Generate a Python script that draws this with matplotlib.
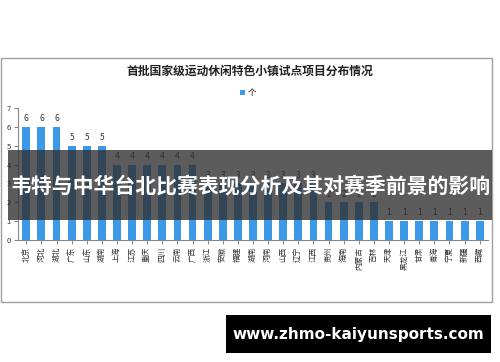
import matplotlib
matplotlib.use("Agg")
import matplotlib.pyplot as plt
from matplotlib.patches import Rectangle

plt.rcParams['font.family'] = ['Noto Sans CJK SC', 'DejaVu Sans']

# data
provinces = ['北京', '河北', '湖北', '广东', '山东', '湖南', '上海', '江苏', '重庆', '四川',
             '云南', '广西', '浙江', '安徽', '福建', '湖南', '河南', '山西', '辽宁', '江西',
             '贵州', '海南', '内蒙古', '吉林', '天津', '黑龙江', '甘肃', '青海', '宁夏', '新疆', '西藏']
counts = [6, 6, 6, 5, 5, 5, 4, 4, 4, 4, 4, 4, 3, 3, 3, 3, 3, 3, 3, 3,
          2, 2, 2, 2, 1, 1, 1, 1, 1, 1, 1]
title = '首批国家级运动休闲特色小镇试点项目分布情况'
series_name = '个'
banner = '韦特与中华台北比赛表现分析及其对赛季前景的影响'
site = 'www.zhmo-kaiyunsports.com'

W, H = 500, 362
fig = plt.figure(figsize=(W / 100, H / 100), dpi=100)
fig.patch.set_facecolor('white')

def fx(x):
    return x / W

def fy(y):
    return 1 - y / H

# chart frame
fig.patches.append(Rectangle((fx(1), fy(302)), fx(491), (302 - 58) / H, transform=fig.transFigure,
                             fill=False, edgecolor='#a0a0a0', linewidth=1))

fig.text(fx(250), fy(71), title, ha='center', va='center', fontsize=8.5, fontweight='bold', color='#222222')

ax = fig.add_axes([fx(18), fy(240), fx(470), (240 - 108) / H])
x = list(range(len(provinces)))
bars = ax.bar(x, counts, width=0.52, color='#3c99e8', label=series_name)
for xi, v in zip(x, counts):
    ax.text(xi, v + 0.2, str(v), ha='center', va='bottom', fontsize=6, color='#333333')

ax.set_ylim(0, 7)
ax.set_xlim(-0.55, len(provinces) - 0.45)
ax.set_yticks(range(0, 8))
ax.set_xticks(x)
ax.set_xticklabels(provinces, rotation=90, fontsize=5.5, va='top')
ax.tick_params(axis='both', length=3, color='#888888', labelsize=5.5, pad=2, labelcolor='#333333')
for s in ['top', 'right']:
    ax.spines[s].set_visible(False)
for s in ['left', 'bottom']:
    ax.spines[s].set_color('#888888')
    ax.spines[s].set_linewidth(0.8)

ax.legend(loc='center', bbox_to_anchor=(fx(248), fy(93)), bbox_transform=fig.transFigure,
          frameon=False, fontsize=6, handlelength=0.6, handleheight=0.6, handletextpad=0.4)

# overlay banner
fig.patches.append(Rectangle((fx(8), fy(220)), fx(484), 70 / H, transform=fig.transFigure,
                             facecolor='#2e2e2e', alpha=0.78, edgecolor='none', zorder=5))
fig.text(fx(250), fy(186), banner, ha='center', va='center', fontsize=15, fontweight='bold',
         color='white', zorder=6)

# site box
fig.patches.append(Rectangle((fx(226), fy(353)), fx(265), 38 / H, transform=fig.transFigure,
                             facecolor='black', edgecolor='none', zorder=5))
fig.text(fx(358), fy(334), site, ha='center', va='center', fontsize=11, fontweight='bold',
         color='white', family=['DejaVu Sans'], zorder=6)

fig.savefig('out.png', dpi=100)
